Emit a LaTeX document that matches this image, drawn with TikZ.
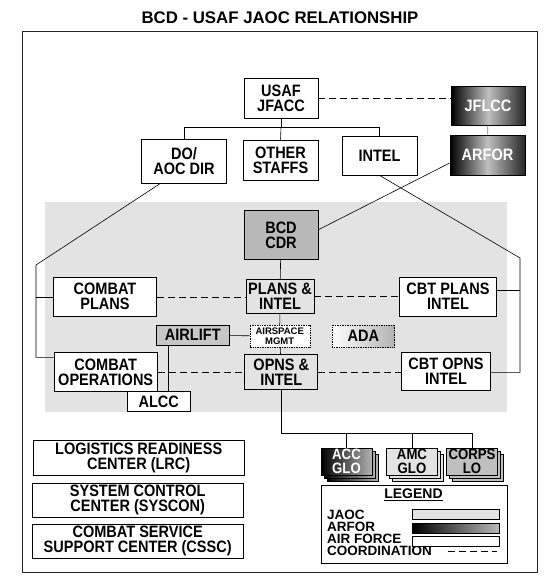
\documentclass[tikz,border=0pt]{standalone}
\usepackage{fontspec}
\setmainfont{Liberation Sans}
\newfontfamily\boxfont[FakeStretch=0.88]{Liberation Sans}
\tikzset{
  orgbox/.style={draw, line width=.7pt, inner sep=0pt, align=center,
    font=\boxfont\bfseries\fontsize{16.5}{15}\selectfont},
  wbox/.style={orgbox, fill=white},
  jaocbox/.style={orgbox, fill=gray!22},
  arforbox/.style={orgbox, left color=black, right color=black!85, middle color=gray!50, text=white},
  accbox/.style={orgbox, left color=black, right color=gray!60, text=white},
  corpsbox/.style={orgbox, fill=gray!50},
  globox/.style={minimum width=51pt, minimum height=27pt,
    font=\boxfont\bfseries\fontsize{15}{14}\selectfont},
  swatch/.style={draw, line width=.6pt, minimum width=86.6pt, minimum height=10pt, inner sep=0pt},
  link/.style={line width=.6pt},
  coordline/.style={line width=.6pt, dash pattern=on 7pt off 4pt},
  legtext/.style={anchor=north west, inner sep=0pt, align=left, font=\bfseries\fontsize{13.5}{12}\selectfont},
}
\begin{document}
\begin{tikzpicture}[x=1pt, y=-1pt]
\useasboundingbox (0,0) rectangle (550,579);
\node[font=\bfseries\fontsize{16.8}{18}\selectfont] (title) at (280,18) {BCD - USAF JAOC RELATIONSHIP};
\draw[line width=.6pt, black!85] (22.5,31.7) rectangle (537,572.3);
% BCD area
\fill[gray!22] (45,202) rectangle (507,412);

% top of the tree
\node[wbox, minimum width=74pt, minimum height=40pt] (jfacc) at (281,98) {USAF\\JFACC};
\node[arforbox, minimum width=74pt, minimum height=39pt] (jflcc) at (488,105.5) {JFLCC};
\node[arforbox, minimum width=75pt, minimum height=40pt] (arforn) at (487.5,155) {ARFOR};
\node[wbox, minimum width=85pt, minimum height=44pt] (doaoc) at (184,161.3) {DO/\\AOC DIR};
\node[wbox, minimum width=75pt, minimum height=40pt] (staffs) at (280.5,160) {OTHER\\STAFFS};
\node[wbox, minimum width=75pt, minimum height=39pt] (intel) at (379.5,155.5) {INTEL};

% inside the BCD
\node[orgbox, fill=gray!55, minimum width=74pt, minimum height=48.6pt] (bcd) at (281,235) {BCD\\CDR};
\node[jaocbox, minimum width=68pt, minimum height=34pt] (plans) at (280,296.5) {PLANS \&\\INTEL};
\node[wbox, densely dotted, line width=.4pt, minimum width=60pt, minimum height=22pt,
  font=\bfseries\fontsize{9.5}{10}\selectfont] (airspace) at (279.7,336) {AIRSPACE\\MGMT};
\node[jaocbox, minimum width=73pt, minimum height=35pt] (opns) at (281.3,372) {OPNS \&\\INTEL};
\node[wbox, minimum width=103.4pt, minimum height=39pt] (cplans) at (105,296.8) {COMBAT\\PLANS};
\node[wbox, minimum width=103.3pt, minimum height=39.4pt] (cops) at (105.7,372) {COMBAT\\OPERATIONS};
\node[wbox, minimum width=97pt, minimum height=39.3pt] (cbtplans) at (448,296.7) {CBT PLANS\\INTEL};
\node[wbox, minimum width=89pt, minimum height=38pt] (cbtops) at (446,371) {CBT OPNS\\INTEL};
\node[orgbox, fill=gray!45, minimum width=73.7pt, minimum height=20.7pt] (airlift) at (192.8,335.3) {AIRLIFT};
\node[orgbox, densely dotted, line width=.4pt, left color=white, right color=gray!60,
  minimum width=62pt, minimum height=22pt] (ada) at (363.3,336) {ADA};
\node[wbox, minimum width=63pt, minimum height=20pt] (alcc) at (158.8,401.7) {ALCC};

% support centers
\node[wbox, minimum width=210.7pt, minimum height=35pt] (lrc) at (138.7,457.5) {LOGISTICS READINESS\\CENTER (LRC)};
\node[wbox, minimum width=210.7pt, minimum height=34.3pt] (syscon) at (137.7,500.2) {SYSTEM CONTROL\\CENTER (SYSCON)};
\node[wbox, minimum width=210.7pt, minimum height=34.3pt] (cssc) at (137.7,541.2) {COMBAT SERVICE\\SUPPORT CENTER (CSSC)};

% liaison stacks
\foreach \d in {6,3}
{
    \node[accbox, globox] (accsh\d) at (346.5+\d,461.8+\d) {};
    \node[jaocbox, globox] (amcsh\d) at (412+\d,461.8+\d) {};
    \node[corpsbox, globox] (corpssh\d) at (472+\d,461.8+\d) {};
}
\node[accbox, globox] (acc) at (346.5,461.8) {ACC\\GLO};
\node[jaocbox, globox] (amc) at (412,461.8) {AMC\\GLO};
\node[corpsbox, globox] (corps) at (472,461.8) {CORPS\\LO};

% legend
\node[wbox, line width=.6pt, minimum width=186.4pt, minimum height=78.3pt] (legend) at (414.5,524.2) {};
\node[font=\bfseries\fontsize{14}{14}\selectfont, inner sep=0pt] (legtitle) at (413.5,495) {\underline{LEGEND}};
\node[legtext] (leglabels) at (327,509.5) {JAOC\\ARFOR\\AIR FORCE\\COORDINATION};
\node[swatch, fill=gray!22] (swjaoc) at (456,514) {};
\node[swatch, left color=black, right color=gray!55] (swarfor) at (456,528.5) {};
\node[swatch, fill=white] (swair) at (456,541.3) {};
\coordinate (swc1) at (448,551);
\coordinate (swc2) at (497,551);
\draw[coordline] (swc1) -- (swc2);

% connectors
\draw[coordline] (jfacc.east) -- (jfacc.east -| jflcc.west);
\draw[link, gray] (jflcc) -- (arforn);
\coordinate (tbar) at (281,127.3);
\draw[link] (jfacc) -- (tbar);
\draw[link] (doaoc.north) |- (tbar) -| (intel.north);
\draw[link] (tbar) -- (staffs.north);
\coordinate (lbr) at (36,265);
\coordinate (lbot) at (36,357.3);
\draw[link] (doaoc.-137) -- (lbr) -- (lbot) -- (lbot -| cops.west);
\draw[link] (lbr |- cplans.west) -- (cplans.west);
\coordinate (rbr) at (520,258);
\coordinate (rbot) at (520,372.3);
\draw[link] (intel.south) -- (rbr) -- (rbot) -- (rbot -| cbtops.east);
\draw[link] (rbr |- cbtplans.8) -- (cbtplans.8);
\draw[link] (arforn.192) -- (bcd.8);
\draw[link] (bcd) -- (plans);
\draw[link] (plans) -- (airspace);
\draw[link] (airspace) -- (opns);
\draw[link] (airlift) -- (airspace);
\draw[link] (airlift.204) -- (airlift.204 |- alcc.north);
\draw[coordline] (cplans.east) -- (cplans.east -| plans.west);
\draw[coordline] (plans.east) -- (plans.east -| cbtplans.west);
\draw[coordline] (cops.east) -- (cops.east -| opns.west);
\draw[coordline] (opns.east) -- (opns.east -| cbtops.west);
\coordinate (bus) at (281,433);
\draw[link] (opns.south) -- (opns.south |- bus) -| (corps.north);
\draw[link] (acc.north |- bus) -- (acc.north);
\draw[link] (amc.north |- bus) -- (amc.north);

\end{tikzpicture}
\end{document}
